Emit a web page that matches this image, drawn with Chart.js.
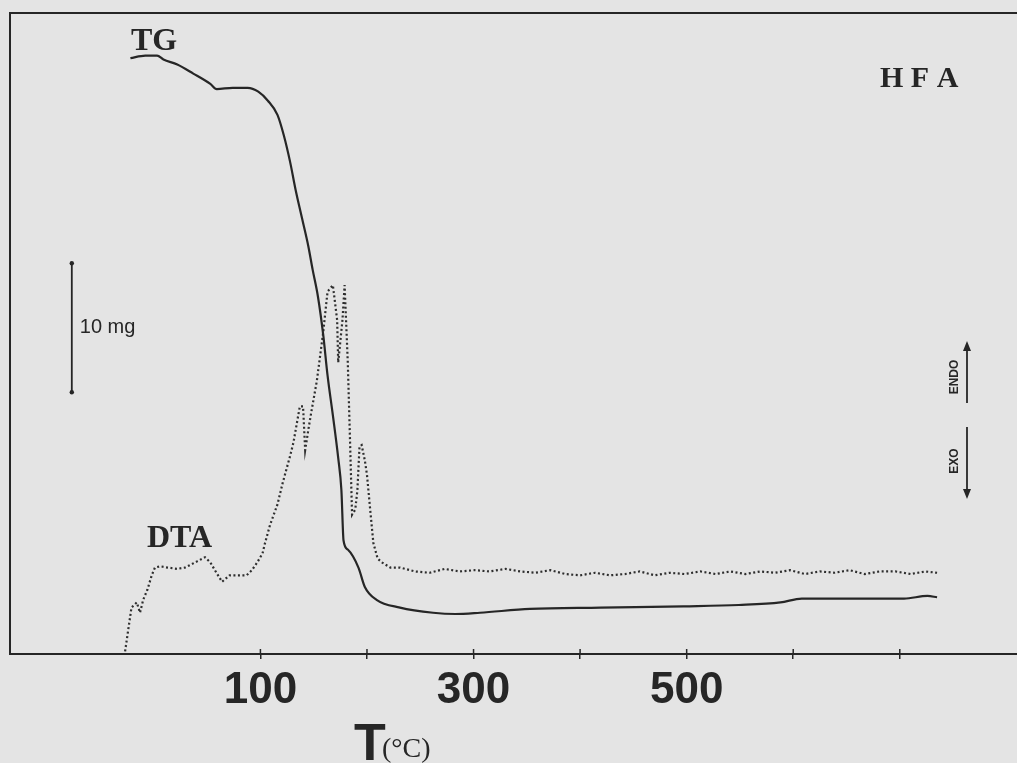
<!DOCTYPE html>
<html>
<head>
<meta charset="utf-8">
<script src="https://cdn.jsdelivr.net/npm/chart.js@4.4.1/dist/chart.umd.min.js"></script>
<style>
  html, body { margin: 0; padding: 0; background: #e4e4e4; }
  canvas { display: block; }
</style>
</head>
<body>
<canvas id="thermo" width="1017" height="763"></canvas>
<script>
// TG curve (temperature in C, mass above baseline in mg)
var tgTemp = [-22, -8, 3, 9, 22, 37, 53, 59, 74, 88, 98, 107, 116, 122, 128, 133, 139, 145, 149, 154,
  159, 163, 168, 173, 176, 178, 182, 192, 198, 209, 231, 262, 283, 306, 353, 419, 497, 549, 588, 608,
  653, 704, 726, 735];
var tgMass = [46.2, 46.4, 46.4, 46.1, 45.7, 45.0, 44.2, 43.8, 43.9, 43.9, 43.6, 42.9, 41.8, 40.2, 38.1, 36.0, 33.8, 31.6, 29.8, 27.7,
  24.7, 21.6, 18.5, 15.2, 12.7, 8.8, 8.1, 6.7, 5.2, 4.2, 3.6, 3.2, 3.1, 3.2, 3.5, 3.6, 3.7, 3.8, 4.0, 4.3,
  4.3, 4.3, 4.5, 4.4];

// DTA curve (same temperature axis, signal in chart units)
var dtaTemp = [-27, -24, -21, -16, -13, -10, -6, -2, 1, 6, 13, 22, 29, 34, 41, 48, 53, 58, 64, 71,
  81, 87, 92, 97, 102, 104, 109, 116, 121, 128, 131, 134, 137, 140, 142, 145, 147, 153, 159, 163,
  168, 172, 173, 177, 179, 182, 184, 186, 189, 191, 193, 195, 198, 200, 203, 206, 210, 214, 222, 231,
  245, 259, 273, 287, 301, 315, 330, 344, 358, 372, 386, 400, 414, 428, 442, 456, 470, 484, 498, 513,
  527, 541, 555, 569, 583, 597, 611, 625, 639, 653, 667, 681, 696, 710, 724, 735];
var dtaSignal = [0.2, 1.9, 3.6, 4.0, 3.2, 4.2, 5.0, 6.1, 6.7, 6.8, 6.7, 6.6, 6.7, 6.9, 7.2, 7.5, 7.1, 6.4, 5.6, 6.1,
  6.1, 6.1, 6.5, 7.1, 7.8, 8.5, 10.0, 11.6, 13.3, 15.4, 16.4, 17.8, 19.2, 19.2, 15.8, 17.4, 18.4, 21.2, 25.0, 28.1,
  28.6, 25.9, 22.6, 25.9, 28.6, 22.6, 16.8, 10.8, 11.2, 12.7, 16.1, 16.2, 15.0, 13.9, 11.2, 8.6, 7.4, 7.1, 6.7, 6.7,
  6.4, 6.3, 6.6, 6.4, 6.5, 6.4, 6.6, 6.4, 6.3, 6.5, 6.2, 6.1, 6.3, 6.1, 6.2, 6.4, 6.1, 6.3, 6.2, 6.4,
  6.2, 6.4, 6.2, 6.4, 6.3, 6.5, 6.2, 6.4, 6.3, 6.5, 6.2, 6.4, 6.4, 6.2, 6.4, 6.3];

var tickTemps = [100, 200, 300, 400, 500, 600, 700];
var tickLabels = [100, 300, 500];

var ink = "#262626";

function toPoints(xs, ys) {
  return xs.map(function (x, i) { return { x: x, y: ys[i] }; });
}

var paperPlugin = {
  id: "paper",
  beforeDraw: function (chart) {
    var ctx = chart.ctx;
    ctx.save();
    ctx.fillStyle = "#e4e4e4";
    ctx.fillRect(0, 0, chart.width, chart.height);
    ctx.restore();
  },
  afterDraw: function (chart) {
    var ctx = chart.ctx;
    var area = chart.chartArea;
    var xs = chart.scales.x;
    var ys = chart.scales.y;
    ctx.save();
    ctx.strokeStyle = ink;
    ctx.fillStyle = ink;

    // top frame line
    ctx.lineWidth = 2;
    ctx.beginPath();
    ctx.moveTo(area.left, area.top);
    ctx.lineTo(area.right, area.top);
    ctx.stroke();

    // small cross marks above the axis at each tick
    ctx.lineWidth = 1.5;
    xs.ticks.forEach(function (t) {
      var px = xs.getPixelForValue(t.value);
      ctx.beginPath();
      ctx.moveTo(px, area.bottom - 5);
      ctx.lineTo(px, area.bottom);
      ctx.stroke();
    });

    // curve labels
    ctx.font = "bold 32px 'Liberation Serif', serif";
    ctx.textBaseline = "alphabetic";
    ctx.textAlign = "left";
    ctx.fillText("TG", 131, 50);
    ctx.fillText("DTA", 147, 547);
    ctx.font = "bold 30px 'Liberation Serif', serif";
    ctx.fillText("H F A", 880, 87);

    // 10 mg scale bar
    var bx = xs.getPixelForValue(-77);
    var b0 = ys.getPixelForValue(20.3);
    var b1 = ys.getPixelForValue(30.3);
    ctx.lineWidth = 1.8;
    ctx.beginPath();
    ctx.moveTo(bx, b0);
    ctx.lineTo(bx, b1);
    ctx.stroke();
    ctx.beginPath(); ctx.arc(bx, b0, 2.2, 0, Math.PI * 2); ctx.fill();
    ctx.beginPath(); ctx.arc(bx, b1, 2.2, 0, Math.PI * 2); ctx.fill();
    ctx.font = "20px 'Liberation Sans', sans-serif";
    ctx.textBaseline = "middle";
    ctx.fillText("10 mg", bx + 8, (b0 + b1) / 2);

    // ENDO / EXO arrows
    var ax = 967;
    ctx.lineWidth = 1.8;
    ctx.beginPath(); ctx.moveTo(ax, 403); ctx.lineTo(ax, 346); ctx.stroke();
    ctx.beginPath(); ctx.moveTo(ax, 341); ctx.lineTo(ax - 4, 351); ctx.lineTo(ax + 4, 351); ctx.closePath(); ctx.fill();
    ctx.beginPath(); ctx.moveTo(ax, 427); ctx.lineTo(ax, 494); ctx.stroke();
    ctx.beginPath(); ctx.moveTo(ax, 499); ctx.lineTo(ax - 4, 489); ctx.lineTo(ax + 4, 489); ctx.closePath(); ctx.fill();
    ctx.font = "bold 12px 'Liberation Sans', sans-serif";
    ctx.textAlign = "center";
    ctx.textBaseline = "middle";
    ctx.save();
    ctx.translate(955, 377);
    ctx.rotate(-Math.PI / 2);
    ctx.fillText("ENDO", 0, 0);
    ctx.restore();
    ctx.save();
    ctx.translate(955, 461);
    ctx.rotate(-Math.PI / 2);
    ctx.fillText("EXO", 0, 0);
    ctx.restore();

    // axis title T (C)
    ctx.textAlign = "left";
    ctx.textBaseline = "alphabetic";
    ctx.font = "bold 52px 'Liberation Sans', sans-serif";
    ctx.fillText("T", 354, 760);
    ctx.font = "28px 'Liberation Serif', serif";
    ctx.fillText("(\u00B0C)", 382, 757);
    ctx.restore();
  }
};

new Chart("thermo", {
  type: "line",
  data: {
    datasets: [{
      label: "TG",
      data: toPoints(tgTemp, tgMass),
      borderColor: ink,
      borderWidth: 2.2,
      pointRadius: 0,
      cubicInterpolationMode: "monotone",
      fill: false
    },
    {
      label: "DTA",
      data: toPoints(dtaTemp, dtaSignal),
      borderColor: "#2e2e2e",
      borderWidth: 2.2,
      borderDash: [2, 2.5],
      pointRadius: 0,
      tension: 0,
      fill: false
    }]
  },
  options: {
    responsive: false,
    animation: false,
    devicePixelRatio: 1,
    layout: { padding: { left: 10, top: 13, right: 0, bottom: 0 } },
    plugins: {
      legend: { display: false },
      tooltip: { enabled: false }
    },
    scales: {
      x: {
        type: "linear",
        min: -135,
        max: 810,
        border: { color: ink, width: 2 },
        grid: { drawOnChartArea: false, drawTicks: true, tickLength: 5, color: ink, lineWidth: 1.5 },
        ticks: {
          stepSize: 100,
          color: ink,
          padding: 10,
          maxRotation: 0,
          autoSkip: false,
          font: { family: "'Liberation Sans', sans-serif", size: 44, weight: "bold", lineHeight: 1 },
          callback: function (v) { return tickLabels.indexOf(v) >= 0 ? String(v) : ""; }
        },
        afterBuildTicks: function (scale) {
          scale.ticks = tickTemps.map(function (v) { return { value: v }; });
        },
        afterFit: function (scale) { scale.height = 109; }
      },
      y: {
        min: 0,
        max: 49.7,
        border: { color: ink, width: 2 },
        grid: { drawOnChartArea: false, drawTicks: false },
        ticks: { display: false },
        afterFit: function (scale) { scale.width = 0; }
      }
    }
  },
  plugins: [paperPlugin]
});
</script>
</body>
</html>
